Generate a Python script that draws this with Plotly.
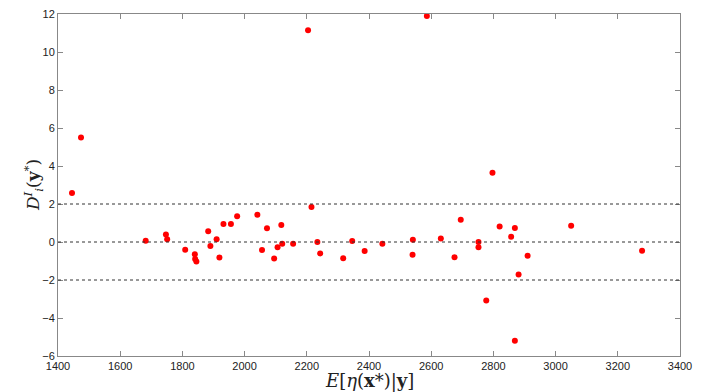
import plotly.graph_objects as go

x_vals = [1445, 1474, 1682, 1747, 1751, 1809, 1840, 1841, 1845, 1883, 1890, 1910, 1919,
          1932, 1956, 1976, 2041, 2056, 2072, 2095, 2106, 2118, 2121, 2156, 2204, 2215,
          2234, 2243, 2317, 2346, 2386, 2443, 2540, 2541, 2586, 2631, 2675, 2695, 2752,
          2752, 2777, 2797, 2820, 2857, 2869, 2869, 2881, 2910, 3050, 3278]
y_vals = [2.58, 5.50, 0.07, 0.39, 0.14, -0.41, -0.65, -0.90, -1.02, 0.57, -0.21, 0.14, -0.81,
          0.95, 0.95, 1.36, 1.43, -0.42, 0.73, -0.87, -0.27, 0.89, -0.09, -0.09, 11.15, 1.84,
          0.0, -0.60, -0.85, 0.05, -0.48, -0.09, -0.67, 0.12, 11.9, 0.19, -0.80, 1.17, 0.0,
          -0.28, -3.08, 3.64, 0.81, 0.28, 0.74, -5.2, -1.71, -0.73, 0.85, -0.46]
ref_lines = [2, 0, -2]
x_ticks = [1400, 1600, 1800, 2000, 2200, 2400, 2600, 2800, 3000, 3200, 3400]
y_ticks = [-6, -4, -2, 0, 2, 4, 6, 8, 10, 12]

fig = go.Figure()
fig.add_trace(go.Scatter(x=x_vals, y=y_vals, mode="markers",
                         marker=dict(color="#ff0000", size=6), showlegend=False,
                         cliponaxis=False))
for r in ref_lines:
    fig.add_shape(type="line", xref="paper", x0=0, x1=1, yref="y", y0=r, y1=r,
                  line=dict(color="#333333", width=1, dash="dot"))

axis_common = dict(showgrid=False, zeroline=False, showline=True, linecolor="#888888",
                   linewidth=1, mirror="allticks", ticks="inside", ticklen=5,
                   tickcolor="#888888", automargin=False,
                   tickfont=dict(family="Liberation Sans, Arial", size=11, color="#222222"))
fig.update_xaxes(range=[1400, 3400], tickvals=x_ticks, **axis_common)
fig.update_yaxes(range=[-6, 12], tickvals=y_ticks, **axis_common)

fig.add_annotation(text="<i>E</i>[<i>η</i>(<b>x</b>*)|<b>y</b>]",
                   xref="paper", yref="paper", x=0.5, y=-0.074, yanchor="middle",
                   showarrow=False, font=dict(family="DejaVu Serif", size=18, color="#222222"))
fig.add_annotation(text="<i>D</i><sup><i>I</i></sup><sub><i>i</i></sub>(<b>y</b><sup>*</sup>)",
                   xref="paper", yref="paper", x=-0.040, y=0.5, xanchor="center",
                   yanchor="middle", textangle=-90, showarrow=False,
                   font=dict(family="DejaVu Serif", size=17, color="#222222"))

fig.update_layout(width=723, height=392, margin=dict(l=58, r=43, t=14, b=36),
                  plot_bgcolor="white", paper_bgcolor="white")
fig.write_html("out.html", config={"displayModeBar": False},
               post_script="document.body.style.margin='0';document.body.style.overflow='hidden';")
